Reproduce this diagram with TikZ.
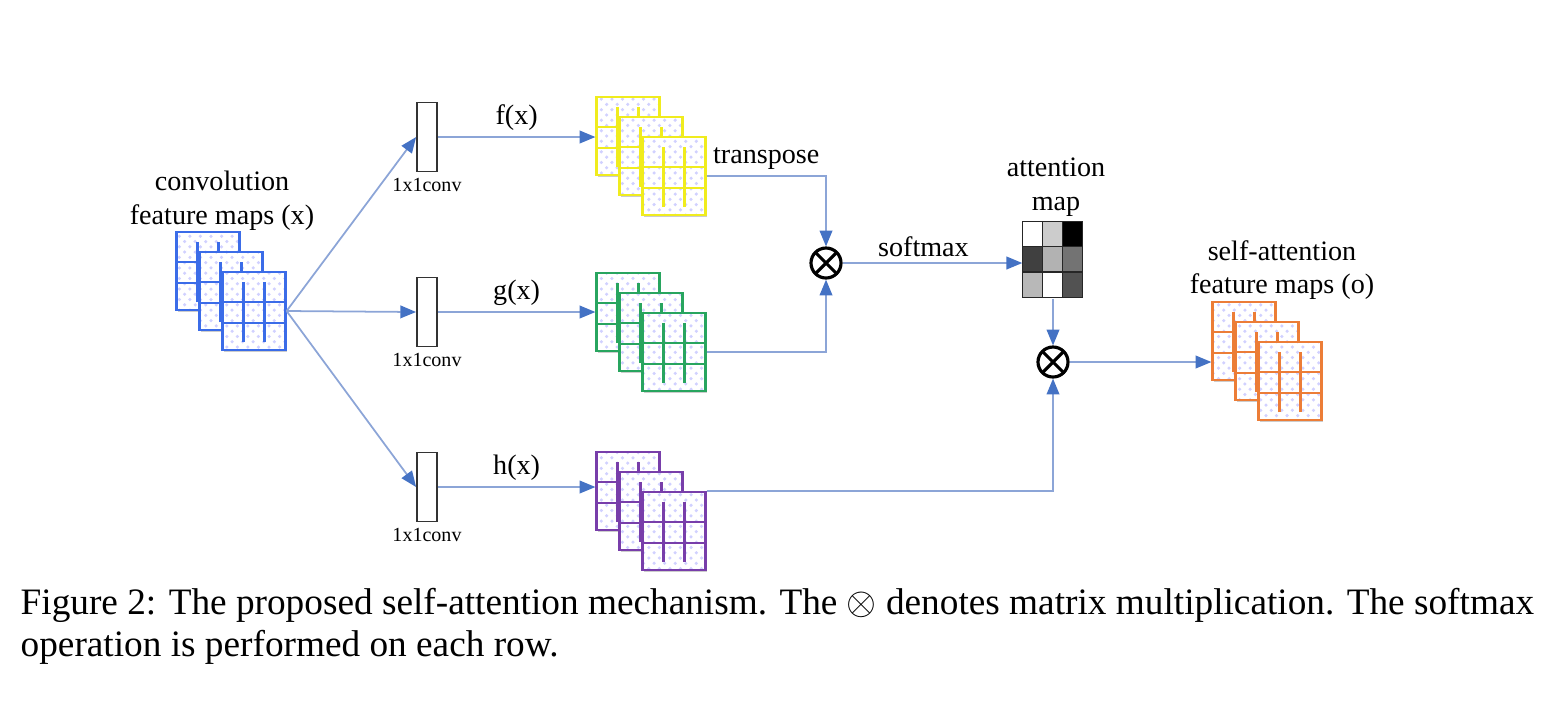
\documentclass[tikz,border=0pt]{standalone}
\usepackage{fontspec}
\setmainfont{Liberation Serif}
\usetikzlibrary{arrows.meta,positioning,patterns,calc}

\definecolor{mapblue}{RGB}{59,108,232}
\definecolor{mapyellow}{RGB}{240,236,30}
\definecolor{mapgreen}{RGB}{40,165,95}
\definecolor{mappurple}{RGB}{120,62,170}
\definecolor{maporange}{RGB}{236,125,55}
\definecolor{wire}{RGB}{140,165,215}
\definecolor{wiretip}{RGB}{68,114,196}

\tikzset{
  fmap/.style={rectangle,draw=#1,line width=0.6pt,minimum width=0.63cm,minimum height=0.78cm,inner sep=0pt,
    preaction={fill=black!20,transform canvas={shift={(0.5pt,-0.5pt)}}},
    preaction={fill=white},
    preaction={pattern=crosshatch dots,pattern color=blue!18},
    path picture={\draw[#1,line width=0.6pt]
      let \p1=(path picture bounding box.south west),\p2=(path picture bounding box.north east) in
      ({\x1},{\y1+0.35*(\y2-\y1)}) -- ({\x2},{\y1+0.35*(\y2-\y1)})
      ({\x1},{\y1+0.62*(\y2-\y1)}) -- ({\x2},{\y1+0.62*(\y2-\y1)})
      ({\x1+(\x2-\x1)/3},{\y1+0.1*(\y2-\y1)}) -- ({\x1+(\x2-\x1)/3},{\y1+0.87*(\y2-\y1)})
      ({\x1+2*(\x2-\x1)/3},{\y1+0.1*(\y2-\y1)}) -- ({\x1+2*(\x2-\x1)/3},{\y1+0.87*(\y2-\y1)});}},
  convbox/.style={rectangle,draw=black!80,line width=0.5pt,minimum width=0.2cm,minimum height=0.69cm,inner sep=0pt,
    label={[font=\fontsize{5.7}{6.5}\selectfont,inner sep=1.5pt]below:1x1conv}},
  mult/.style={circle,draw=black,line width=0.9pt,minimum size=0.3cm,inner sep=0pt,
    path picture={\draw[line width=0.9pt] (path picture bounding box.center) +(45:0.15cm) -- +(225:0.15cm)
      (path picture bounding box.center) +(135:0.15cm) -- +(-45:0.15cm);}},
  lbl/.style={font=\fontsize{8}{9.6}\selectfont,align=center,inner sep=1.5pt},
  wire/.style={draw=wire,line width=0.5pt},
  cell/.style={draw=black!85,line width=0.4pt}
}

\begin{document}
\begin{tikzpicture}[x=0.01cm,y=-0.01cm,>={Triangle[length=4.5pt,width=3.6pt,color=wiretip]}]
  \useasboundingbox (0,0) rectangle (1555,711);

  % input feature maps
  \node[fmap=mapblue] (b1) at (208,271) {};
  \node[fmap=mapblue] (b2) at (231,291) {};
  \node[fmap=mapblue] (b3) at (254,311) {};
  \node[lbl] (inlabel) at (222,201) {convolution\\feature maps (x)};

  % 1x1 convolutions
  \node[convbox] (k1) at (427,137) {};
  \node[convbox] (k2) at (427,312) {};
  \node[convbox] (k3) at (427,487) {};

  % f, g, h
  \node[fmap=mapyellow] (f1) at (628,136) {};
  \node[fmap=mapyellow] (f2) at (651,156) {};
  \node[fmap=mapyellow] (f3) at (674,176) {};
  \node[fmap=mapgreen] (g1) at (628,312) {};
  \node[fmap=mapgreen] (g2) at (651,332) {};
  \node[fmap=mapgreen] (g3) at (674,352) {};
  \node[fmap=mappurple] (h1) at (628,491) {};
  \node[fmap=mappurple] (h2) at (651,511) {};
  \node[fmap=mappurple] (h3) at (674,531) {};

  % products
  \node[mult] (m1) at (826,263) {};
  \node[mult] (m2) at (1053,362) {};

  % attention map
  \node[rectangle,minimum width=0.6cm,minimum height=0.76cm,inner sep=0pt] (attn) at (1053,260) {};
  \foreach \col/\row/\shade in {0/0/0,1/0/20,2/0/100,0/1/75,1/1/30,2/1/55,0/2/28,1/2/0,2/2/68}
    \draw[cell,fill=black!\shade] ($(attn.north west)+(\col*20,\row*25.33)$) rectangle +(20,25.33);
  \node[lbl] (attnlabel) at (1056,187) {attention\\map};

  % output feature maps
  \node[fmap=maporange] (o1) at (1244,341) {};
  \node[fmap=maporange] (o2) at (1267,361) {};
  \node[fmap=maporange] (o3) at (1290,381) {};
  \node[lbl] (outlabel) at (1282,270) {self-attention\\feature maps (o)};

  \draw[wire,->] (b3.east) -- (k1.west);
  \draw[wire,->] (b3.east) -- (k2.west);
  \draw[wire,->] (b3.east) -- (k3.west);
  \draw[wire,->] (k1.east) -- node[lbl,above] {f(x)} (k1.east -| f1.west);
  \draw[wire,->] (k2.east) -- node[lbl,above] {g(x)} (k2.east -| g1.west);
  \draw[wire,->] (k3.east) -- node[lbl,above] {h(x)} (k3.east -| h1.west);
  \draw[wire,->] (f3.east) -| node[lbl,above,pos=0.25] {transpose} (m1.north);
  \draw[wire,->] (g3.east) -| (m1.south);
  \draw[wire,->] (m1.east) -- node[lbl,above,pos=0.45] {softmax} (m1 -| attn.west);
  \draw[wire,->] (attn.south) -- (m2.north);
  \draw[wire,->] (h3.north east) -| (m2.south);
  \draw[wire,->] (m2.east) -- (m2 -| o1.west);

  % caption
  \node[anchor=base west,inner sep=0pt,font=\fontsize{10.6}{12.7}\selectfont] (cap1) at (20,614)
    {Figure 2: The proposed self-attention mechanism. The $\otimes$ denotes matrix multiplication. The softmax};
  \node[anchor=base west,inner sep=0pt,font=\fontsize{10.6}{12.7}\selectfont] (cap2) at (20,656)
    {operation is performed on each row.};
\end{tikzpicture}
\end{document}
